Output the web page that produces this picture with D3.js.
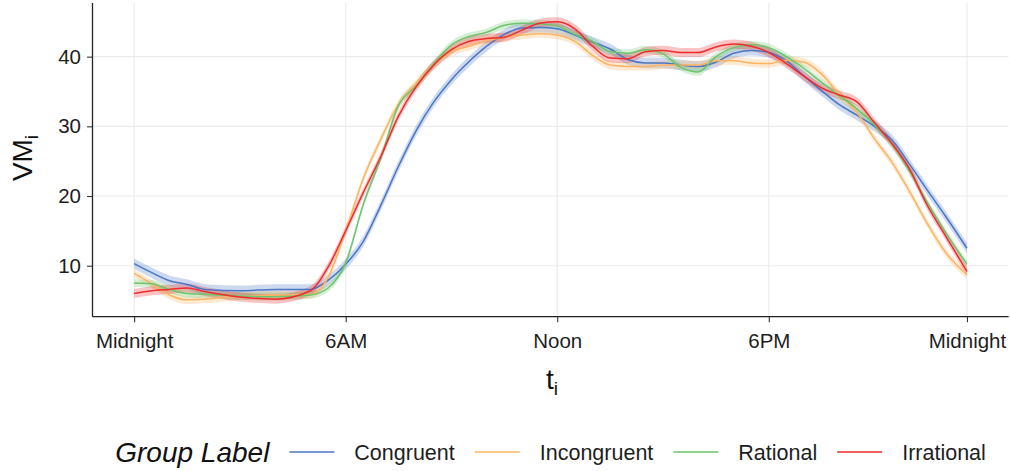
<!DOCTYPE html>
<html>
<head>
<meta charset="utf-8">
<script src="https://cdn.jsdelivr.net/npm/d3@7"></script>
<style>
  html, body { margin: 0; padding: 0; background: #fff; }
  svg { display: block; font-family: "Liberation Sans", Arial, sans-serif; }
</style>
</head>
<body>
<svg id="chart" width="1010" height="471"></svg>
<script>
// ---- data (hours since midnight) ----
const hours = [0,0.5,1,1.5,2,3,4,5,5.5,6,6.5,7,7.5,8,8.5,9,9.5,10,10.5,11,11.5,12,12.5,13,13.5,14,14.5,15,15.5,16,16.5,17,17.5,18,18.5,19,19.5,20,20.5,21,21.5,22,22.5,23,23.62];

const congruent   = [10.3,9.0,7.85,7.3,6.6,6.4,6.6,6.6,7.9,10.2,13.5,18.7,24.3,29.4,33.5,36.7,39.3,41.5,43.2,44.1,44.2,44.0,43.1,42.1,41.1,39.6,39.1,39.1,38.8,38.6,39.2,40.5,40.9,40.6,39.4,37.2,35.1,33.1,31.6,30.0,28.0,24.5,20.8,17.2,12.5];
const incongruent = [8.9,7.4,5.8,5.1,5.2,5.65,5.8,5.9,8.3,15.0,22.5,28.2,33.2,36.2,38.8,40.7,41.5,42.3,42.8,43.1,43.3,43.1,42.2,40.2,38.8,38.6,38.6,38.8,38.8,38.8,39.4,39.4,39.1,39.0,39.5,39.2,37.5,34.6,32.0,28.2,24.8,20.6,16.0,12.0,8.7];
const rational    = [7.5,7.4,6.6,6.0,5.9,5.65,5.55,5.8,6.8,10.4,18.8,25.5,33.0,35.8,39.0,41.7,42.9,43.5,44.5,44.8,44.7,44.4,43.2,42.2,40.7,40.5,41.0,40.4,38.5,37.8,40.0,41.3,41.7,41.3,40.0,38.3,36.3,34.4,32.5,30.2,27.4,23.5,19.0,14.9,10.2];
const irrational  = [6.0,6.4,6.6,6.8,6.3,5.5,5.2,6.4,9.8,15.0,20.5,25.7,31.5,35.7,38.8,41.0,42.2,42.6,42.8,43.8,44.8,45.0,44.0,41.5,39.8,39.7,40.7,40.9,40.6,40.6,41.4,41.8,41.5,40.6,39.0,37.2,35.5,34.5,33.5,30.5,27.5,23.8,18.6,14.4,9.2];

const groupNames = ["Congruent","Incongruent","Rational","Irrational"];
const groupValues = [congruent, incongruent, rational, irrational];
const bandHalfWidth = [0.75, 0.6, 0.55, 0.65];   // confidence band half-width per group
const groupColors = ["#4a76c6","#fdb462","#6cc46c","#ee2c2c"];

const xTickValues = [0, 6, 12, 18, 23.62];
const xTickLabels = ["Midnight","6AM","Noon","6PM","Midnight"];
const yTickValues = [10, 20, 30, 40];

// ---- layout ----
const svg = d3.select("#chart");
const panel = {left: 92.5, right: 1008.6, top: 3, bottom: 316.7};

const x = d3.scaleLinear().domain([-1.181, 24.801]).range([panel.left, panel.right]);
const y = d3.scaleLinear().domain([2.68, 47.7]).range([panel.bottom, panel.top]);

// grid
const grid = svg.append("g");
grid.selectAll("line.h").data(yTickValues).join("line")
  .attr("x1", panel.left).attr("x2", panel.right)
  .attr("y1", d => y(d)).attr("y2", d => y(d))
  .attr("stroke", "#ebebeb").attr("stroke-width", 1.1);
grid.selectAll("line.v").data(xTickValues).join("line")
  .attr("y1", panel.top).attr("y2", panel.bottom)
  .attr("x1", d => x(d)).attr("x2", d => x(d))
  .attr("stroke", "#ebebeb").attr("stroke-width", 1.1);

// series
const series = groupNames.map((name, gi) => ({
  name, color: groupColors[gi], half: bandHalfWidth[gi],
  pts: hours.map((h, i) => ({h, v: groupValues[gi][i]}))
}));

const area = d3.area().curve(d3.curveMonotoneX)
  .x(d => x(d.h));
const line = d3.line().curve(d3.curveMonotoneX)
  .x(d => x(d.h)).y(d => y(d.v));

const gRib = svg.append("g");
series.forEach(s => {
  gRib.append("path")
    .attr("d", area.y0(d => y(d.v - s.half)).y1(d => y(d.v + s.half))(s.pts))
    .attr("fill", s.color).attr("fill-opacity", 0.28).attr("stroke", "none");
});
const gLines = svg.append("g");
series.forEach(s => {
  gLines.append("path")
    .attr("d", line(s.pts))
    .attr("fill", "none").attr("stroke", s.color).attr("stroke-width", 1.5);
});

// axes
const axisColor = "#222";
const xAxis = d3.axisBottom(x).tickValues(xTickValues)
  .tickFormat((d, i) => xTickLabels[i]).tickSize(5.5).tickPadding(11);
const gx = svg.append("g").attr("transform", `translate(0,${panel.bottom})`).call(xAxis);
gx.select(".domain").attr("d", `M${panel.left},0H${panel.right}`).attr("stroke", axisColor).attr("stroke-width", 1.3);
gx.selectAll(".tick line").attr("stroke", "#333").attr("stroke-width", 1.1);
gx.selectAll(".tick text").attr("font-size", 20.5).attr("fill", "#1e1e1e")
  .attr("font-family", "Liberation Sans, Arial, sans-serif");

const yAxis = d3.axisLeft(y).tickValues(yTickValues).tickSize(5.5).tickPadding(6);
const gy = svg.append("g").attr("transform", `translate(${panel.left},0)`).call(yAxis);
gy.select(".domain").attr("d", `M0,${panel.top}V${panel.bottom}`).attr("stroke", axisColor).attr("stroke-width", 1.3);
gy.selectAll(".tick line").attr("stroke", "#333").attr("stroke-width", 1.1);
gy.selectAll(".tick text").attr("font-size", 20.5).attr("fill", "#1e1e1e")
  .attr("font-family", "Liberation Sans, Arial, sans-serif");

// axis titles
const yt = svg.append("text")
  .attr("transform", "translate(32,158) rotate(-90)")
  .attr("text-anchor", "middle").attr("font-size", 28).attr("fill", "#111");
yt.append("tspan").text("VM");
yt.append("tspan").text("i").attr("font-size", 19).attr("dy", 6);

const xt = svg.append("text")
  .attr("x", 552).attr("y", 389)
  .attr("text-anchor", "middle").attr("font-size", 28).attr("fill", "#111");
xt.append("tspan").text("t");
xt.append("tspan").text("i").attr("font-size", 19).attr("dy", 6);

// legend
const leg = svg.append("g");
const legendY = 452;
const keyW = 45, gap = 20;
const title = leg.append("text").text("Group Label")
  .attr("font-size", 28).attr("font-style", "italic").attr("fill", "#111")
  .attr("y", legendY + 10);
let cursor = 0;
const titleW = title.node().getComputedTextLength();
title.attr("x", cursor);
cursor += titleW + gap;
series.forEach(s => {
  leg.append("line").attr("x1", cursor).attr("x2", cursor + keyW)
    .attr("y1", legendY).attr("y2", legendY)
    .attr("stroke", s.color).attr("stroke-width", 1.6);
  cursor += keyW + gap;
  const t = leg.append("text").text(s.name).attr("x", cursor).attr("y", legendY + 8)
    .attr("font-size", 21.5).attr("fill", "#1e1e1e");
  cursor += t.node().getComputedTextLength() + gap;
});
const totalW = cursor - gap;
const centerX = (panel.left + panel.right) / 2;
leg.attr("transform", `translate(${centerX - totalW / 2},0)`);
</script>
</body>
</html>
